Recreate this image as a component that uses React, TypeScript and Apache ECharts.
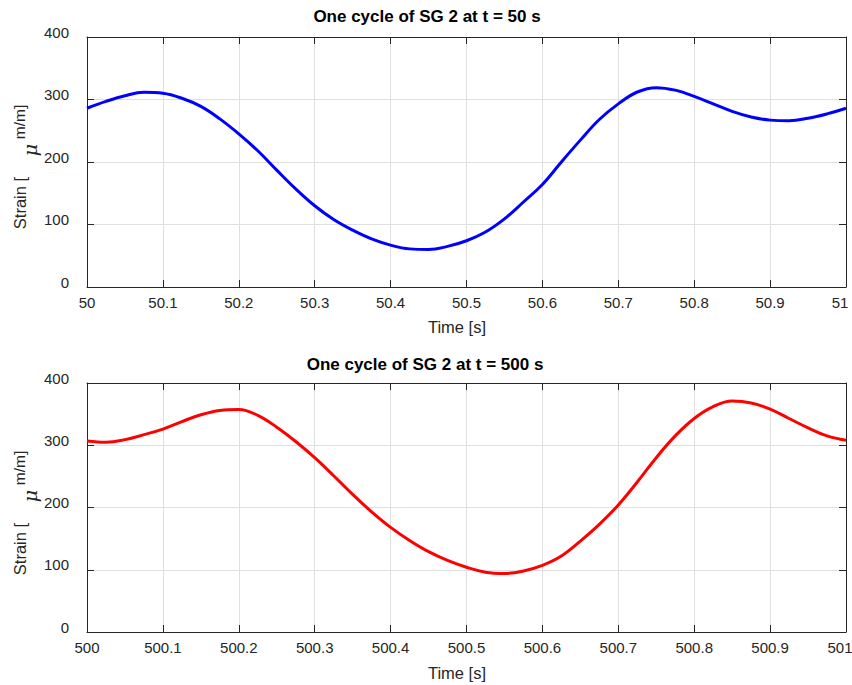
import React, { useEffect, useRef } from "react";
import * as echarts from "echarts";

// Top panel: one cycle at t = 50 s
const topTime = [50, 50.025, 50.05, 50.075, 50.1, 50.125, 50.15, 50.175, 50.2, 50.225, 50.25, 50.275, 50.3, 50.325, 50.35, 50.375, 50.4, 50.425, 50.45, 50.475, 50.5, 50.525, 50.55, 50.575, 50.6, 50.625, 50.65, 50.675, 50.7, 50.725, 50.75, 50.775, 50.8, 50.825, 50.85, 50.875, 50.9, 50.925, 50.95, 50.975, 51];
const topStrain = [286, 297, 306, 311.5, 310, 302, 289, 269, 245, 218, 187, 157, 130, 108, 91, 77, 67, 61, 60, 65, 74, 88, 109, 136, 164, 200, 235, 268, 293, 312, 319, 315, 305, 293, 281, 272, 267, 266, 270, 277, 286];

// Bottom panel: one cycle at t = 500 s
const bottomTime = [500, 500.025, 500.05, 500.075, 500.1, 500.125, 500.15, 500.175, 500.2, 500.225, 500.25, 500.275, 500.3, 500.325, 500.35, 500.375, 500.4, 500.425, 500.45, 500.475, 500.5, 500.525, 500.55, 500.575, 500.6, 500.625, 500.65, 500.675, 500.7, 500.725, 500.75, 500.775, 500.8, 500.825, 500.85, 500.875, 500.9, 500.925, 500.95, 500.975, 501];
const bottomStrain = [307, 305, 309, 317, 326, 338, 349, 356, 357.5, 348, 329, 306, 280, 251, 221, 193, 168, 147, 129, 115, 104, 96, 94, 98, 107, 122, 146, 173, 204, 241, 280, 315, 343, 362, 371, 368, 358, 343, 328, 315, 308];

const titles = ["One cycle of SG 2 at t = 50 s", "One cycle of SG 2 at t = 500 s"];
const xName = "Time [s]";
const yNameParts = ["Strain [", "\u03bc", "m/m]"];

const FONT = "'Liberation Sans', Arial, Helvetica, sans-serif";
const AX = "#262626";
const GRID = "#dfdfdf";

const fmt = (v: number) => String(parseFloat(v.toFixed(1)));

function xAxes(gridIndex: number, min: number) {
  const max = min + 1;
  const common = {
    type: "value" as const,
    gridIndex,
    min,
    max,
    interval: 0.1,
    axisLine: { show: true, onZero: false, lineStyle: { color: AX, width: 1 } },
    axisTick: { show: true, inside: true, length: 7, lineStyle: { color: AX } },
  };
  return [
    {
      ...common,
      position: "bottom",
      splitLine: { show: true, lineStyle: { color: GRID, width: 1 } },
      axisLabel: {
        show: true,
        color: AX,
        fontSize: 15,
        fontFamily: FONT,
        margin: 8,
        showMinLabel: true,
        showMaxLabel: true,
        hideOverlap: false,
        formatter: (v: number) => (Math.abs(v - max) < 1e-6 ? `{r|${fmt(v)}}` : fmt(v)),
        rich: { r: { color: AX, fontSize: 15, fontFamily: FONT, padding: [0, 12, 0, 0] } },
      },
    },
    {
      ...common,
      position: "top",
      splitLine: { show: false },
      axisLabel: { show: false },
    },
  ];
}

function yAxes(gridIndex: number) {
  const common = {
    type: "value" as const,
    gridIndex,
    min: 0,
    max: 400,
    interval: 100,
    axisLine: { show: true, onZero: false, lineStyle: { color: AX, width: 1 } },
    axisTick: { show: true, inside: true, length: 7, lineStyle: { color: AX } },
  };
  return [
    {
      ...common,
      position: "left",
      splitLine: { show: true, lineStyle: { color: GRID, width: 1 } },
      axisLabel: { show: true, color: AX, fontSize: 15, fontFamily: FONT, margin: 18, verticalAlign: "bottom", lineHeight: 10 },
    },
    {
      ...common,
      position: "right",
      splitLine: { show: false },
      axisLabel: { show: false },
    },
  ];
}

function yNameGraphics(dy: number) {
  return [
    {
      type: "text",
      x: 20,
      y: 203 + dy,
      rotation: Math.PI / 2,
      style: { text: yNameParts[0], fill: AX, font: `16.5px ${FONT}`, align: "center", verticalAlign: "middle" },
    },
    {
      type: "text",
      x: 30,
      y: 150 + dy,
      rotation: Math.PI / 2,
      style: { text: yNameParts[1], fill: AX, font: `italic 19px 'DejaVu Serif', serif`, align: "center", verticalAlign: "middle" },
    },
    {
      type: "text",
      x: 19,
      y: 122 + dy,
      rotation: Math.PI / 2,
      style: { text: yNameParts[2], fill: AX, font: `15.5px ${FONT}`, align: "center", verticalAlign: "middle" },
    },
  ];
}

export default function App() {
  const ref = useRef<HTMLDivElement>(null);
  useEffect(() => {
    if (!ref.current) return;
    const chart = echarts.init(ref.current, undefined, { renderer: "svg" });
    const topData = topTime.map((t, i) => [t, topStrain[i]]);
    const bottomData = bottomTime.map((t, i) => [t, bottomStrain[i]]);
    chart.setOption({
      animation: false,
      backgroundColor: "#ffffff",
      grid: [
        { left: 87, top: 37, width: 759, height: 250, containLabel: false, outerBoundsMode: "none" },
        { left: 87, top: 383, width: 759, height: 249, containLabel: false, outerBoundsMode: "none" },
      ],
      xAxis: [...xAxes(0, 50), ...xAxes(1, 500)],
      yAxis: [...yAxes(0), ...yAxes(1)],
      series: [
        {
          type: "line",
          xAxisIndex: 0,
          yAxisIndex: 0,
          data: topData,
          smooth: 0.4,
          showSymbol: false,
          lineStyle: { color: "#0000ff", width: 3 },
          itemStyle: { color: "#0000ff" },
        },
        {
          type: "line",
          xAxisIndex: 2,
          yAxisIndex: 2,
          data: bottomData,
          smooth: 0.4,
          showSymbol: false,
          lineStyle: { color: "#ff0000", width: 3 },
          itemStyle: { color: "#ff0000" },
        },
      ],
      graphic: [
        {
          type: "text",
          x: 427,
          y: 16,
          style: { text: titles[0], fill: "#000000", font: `bold 17px ${FONT}`, align: "center", verticalAlign: "middle" },
        },
        {
          type: "text",
          x: 425,
          y: 364,
          style: { text: titles[1], fill: "#000000", font: `bold 17px ${FONT}`, align: "center", verticalAlign: "middle" },
        },
        {
          type: "text",
          x: 457,
          y: 327,
          style: { text: xName, fill: AX, font: `16.5px ${FONT}`, align: "center", verticalAlign: "middle" },
        },
        {
          type: "text",
          x: 457,
          y: 673,
          style: { text: xName, fill: AX, font: `16.5px ${FONT}`, align: "center", verticalAlign: "middle" },
        },
        ...yNameGraphics(0),
        ...yNameGraphics(346),
      ],
    });
    return () => chart.dispose();
  }, []);
  return (
    <div
      ref={ref}
      style={{ position: "fixed", left: 0, top: 0, width: 852, height: 685, background: "#fff" }}
    />
  );
}
